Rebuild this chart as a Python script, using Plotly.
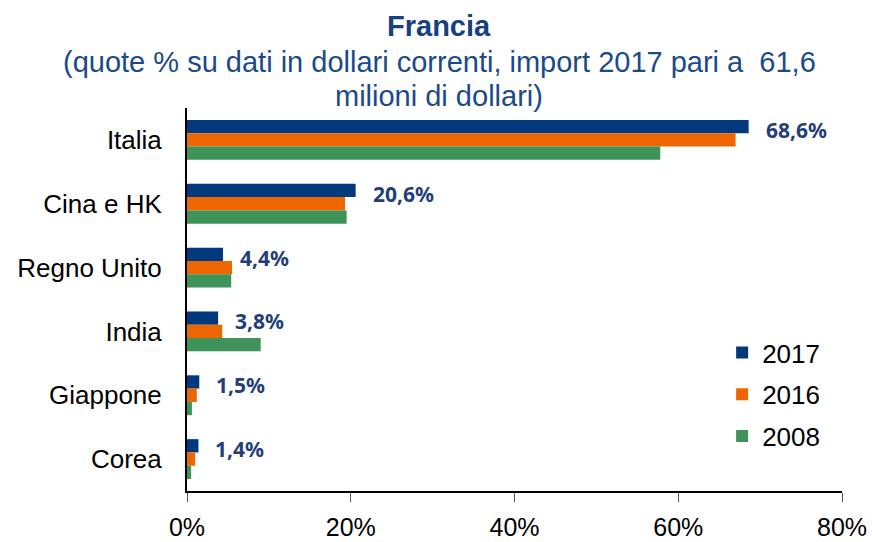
import plotly.graph_objects as go

categories = ["Italia", "Cina e HK", "Regno Unito", "India", "Giappone", "Corea"]
v2017 = [68.6, 20.6, 4.4, 3.8, 1.5, 1.4]
v2016 = [67.0, 19.3, 5.5, 4.3, 1.2, 1.0]
v2008 = [57.8, 19.5, 5.4, 9.0, 0.6, 0.5]
labels2017 = ["68,6%", "20,6%", "4,4%", "3,8%", "1,5%", "1,4%"]
x_ticks = [0, 20, 40, 60, 80]
x_ticklabels = ["0%", "20%", "40%", "60%", "80%"]

series = [("2017", v2017, "#003A7D"), ("2016", v2016, "#EE6600"), ("2008", v2008, "#3F925A")]

fig = go.Figure()
for name, vals, col in series:
    fig.add_trace(go.Bar(
        y=categories, x=vals, name=name, orientation="h",
        marker=dict(color=col, line=dict(width=0)),
        legendgroup=name, hoverinfo="skip",
    ))

# data labels for 2017 bars
for cat, val, lab in zip(categories, v2017, labels2017):
    fig.add_annotation(
        x=val, y=cat, text="<b>" + lab + "</b>", showarrow=False,
        xanchor="left", yanchor="middle", xshift=15, yshift=10,
        font=dict(family="Noto Sans", size=21, color="#1F3E7A"),
    )

ttl_font = "Arial, Liberation Sans"
fig.add_annotation(xref="paper", yref="paper", x=0.385, y=1.214, text="<b>Francia</b>",
                   showarrow=False, xanchor="center", yanchor="middle",
                   font=dict(family=ttl_font, size=29, color="#17407F"))
fig.add_annotation(xref="paper", yref="paper", x=0.385, y=1.121,
                   text="(quote % su dati in dollari correnti, import 2017 pari a  61,6",
                   showarrow=False, xanchor="center", yanchor="middle",
                   font=dict(family=ttl_font, size=29, color="#1B4A8A"))
fig.add_annotation(xref="paper", yref="paper", x=0.385, y=1.031,
                   text="milioni di dollari)",
                   showarrow=False, xanchor="center", yanchor="middle",
                   font=dict(family=ttl_font, size=29, color="#1B4A8A"))

fig.update_layout(
    width=872, height=542,
    margin=dict(l=187, r=30, t=108, b=51, autoexpand=False),
    paper_bgcolor="white", plot_bgcolor="white",
    barmode="group", bargap=0.375, bargroupgap=0,
    font=dict(family="Arial, Liberation Sans", size=26, color="black"),
    showlegend=True,
    legend=dict(x=0.817, y=0.423, xanchor="left", yanchor="top",
                traceorder="grouped", tracegroupgap=5,
                font=dict(size=26, color="black"), bgcolor="rgba(0,0,0,0)"),
    xaxis=dict(range=[0, 80], tickvals=x_ticks, ticktext=x_ticklabels,
               tickfont=dict(size=25),
               showgrid=False, zeroline=False, showline=True, linecolor="black", linewidth=2,
               ticks="outside", ticklen=9, tickcolor="#555", tickwidth=1,
               ticklabelstandoff=4, automargin=False, fixedrange=True),
    yaxis=dict(autorange="reversed", showgrid=False, zeroline=False,
               showline=True, linecolor="black", linewidth=2,
               ticks="", ticklabelstandoff=18, automargin=False, fixedrange=True),
)

fig.write_html(
    "out.html",
    config={"displayModeBar": False},
    post_script="document.body.style.margin='0';document.body.style.overflow='hidden';",
)
